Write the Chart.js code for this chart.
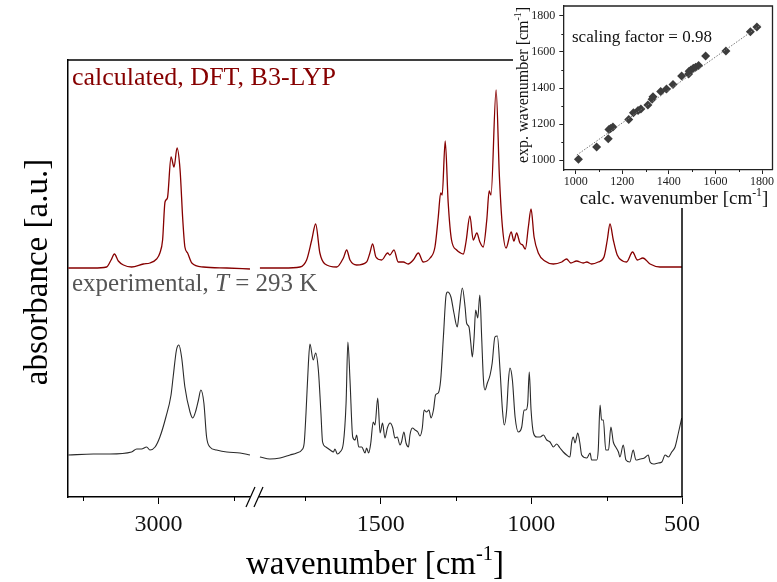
<!DOCTYPE html>
<html lang="en">
<head>
<meta charset="UTF-8">
<title>IR spectrum - calculated vs experimental</title>
<script src="https://cdn.jsdelivr.net/npm/chart.js"></script>
<style>
  body { margin: 0; background: #fff; }
  #wrap { position: relative; width: 777px; height: 582px; }
  #main { position: absolute; left: 0; top: 0; }
  #inset { position: absolute; left: 513px; top: 0; background: #fff; }
</style>
</head>
<body>
<div id="wrap">
  <canvas id="main" width="777" height="582"></canvas>
  <canvas id="inset" width="264" height="208"></canvas>
</div>

<script>
// spectra as [wavenumber, absorbance (a.u., offset)]
const calcHigh = [[3299,2.29],[3216,2.29],[3172,2.30],[3157,2.37],[3146,2.43],[3133,2.36],[3116,2.32],[3089,2.30],
  [3050,2.33],[3028,2.34],[3006,2.38],[2995,2.44],[2986,2.57],[2978,2.95],[2970,2.99],[2958,3.40],[2948,3.30],
  [2938,3.49],[2928,3.27],[2919,2.77],[2912,2.50],[2903,2.44],[2889,2.34],[2851,2.30],[2773,2.29],[2696,2.28]];

const calcLow = [[1901,2.29],[1823,2.29],[1768,2.30],[1746,2.37],[1729,2.57],[1716,2.73],[1702,2.44],[1685,2.33],
  [1646,2.30],[1624,2.39],[1613,2.47],[1602,2.37],[1580,2.32],[1547,2.35],[1536,2.44],[1527,2.53],[1516,2.40],
  [1497,2.37],[1477,2.44],[1470,2.42],[1456,2.47],[1442,2.35],[1425,2.35],[1409,2.33],[1392,2.37],[1375,2.44],
  [1359,2.35],[1336,2.39],[1320,2.50],[1309,2.80],[1301,3.04],[1296,3.02],[1286,3.56],[1276,2.94],[1265,2.57],
  [1248,2.47],[1235,2.44],[1226,2.43],[1217,2.55],[1204,2.81],[1193,2.57],[1181,2.64],[1171,2.55],[1160,2.50],
  [1148,2.77],[1140,3.06],[1134,3.02],[1117,4.07],[1106,3.20],[1096,2.70],[1084,2.49],[1067,2.65],[1058,2.56],
  [1049,2.64],[1038,2.54],[1029,2.52],[1020,2.48],[1010,2.70],[1001,2.88],[991,2.60],[977,2.44],[955,2.36],
  [927,2.33],[899,2.35],[883,2.38],[869,2.34],[850,2.36],[828,2.34],[816,2.35],[800,2.33],[778,2.35],[759,2.40],
  [748,2.57],[739,2.73],[728,2.57],[715,2.42],[697,2.36],[684,2.35],[664,2.45],[648,2.37],[630,2.39],[606,2.33],
  [573,2.30],[540,2.30],[507,2.30],[500,2.30]];

const expHigh = [[3299,0.42],[3216,0.43],[3161,0.43],[3089,0.45],[3072,0.48],[3056,0.48],[3039,0.50],[3028,0.47],
  [3011,0.50],[2995,0.60],[2975,0.80],[2958,1.02],[2951,1.20],[2940,1.47],[2932,1.52],[2923,1.40],[2912,1.10],
  [2895,0.85],[2886,0.79],[2875,0.87],[2867,0.97],[2859,1.07],[2849,0.94],[2840,0.60],[2829,0.50],[2807,0.47],
  [2773,0.45],[2729,0.44],[2696,0.42]];

const expLow = [[1901,0.40],[1868,0.38],[1834,0.39],[1801,0.42],[1779,0.44],[1762,0.47],[1754,0.54],[1748,0.84],
  [1740,1.34],[1735,1.53],[1724,1.37],[1716,1.44],[1707,1.27],[1699,0.87],[1693,0.55],[1682,0.50],[1668,0.47],
  [1657,0.45],[1652,0.48],[1644,0.43],[1635,0.45],[1624,0.54],[1615,0.94],[1609,1.55],[1602,1.17],[1593,0.60],
  [1585,0.57],[1580,0.62],[1573,0.50],[1563,0.50],[1552,0.44],[1547,0.49],[1540,0.44],[1533,0.54],[1525,0.75],
  [1519,0.72],[1510,0.99],[1502,0.64],[1494,0.74],[1486,0.59],[1478,0.69],[1469,0.74],[1460,0.69],[1453,0.59],
  [1445,0.60],[1436,0.52],[1431,0.55],[1423,0.65],[1416,0.54],[1408,0.50],[1403,0.62],[1395,0.69],[1386,0.67],
  [1377,0.65],[1370,0.61],[1362,0.69],[1356,0.87],[1348,0.85],[1340,0.87],[1333,0.79],[1325,0.87],[1318,1.02],
  [1309,1.04],[1301,1.17],[1292,1.60],[1283,2.02],[1278,2.05],[1267,2.00],[1257,1.84],[1246,1.70],[1239,1.87],
  [1229,2.09],[1220,1.90],[1215,1.74],[1207,1.70],[1201,1.54],[1196,1.40],[1190,1.60],[1185,1.87],[1178,1.79],
  [1171,2.02],[1165,1.60],[1159,1.17],[1154,1.07],[1146,1.14],[1137,1.22],[1130,1.34],[1121,1.60],[1113,1.61],
  [1104,1.27],[1096,0.87],[1090,0.72],[1082,0.87],[1076,1.17],[1071,1.29],[1063,1.17],[1054,0.80],[1043,0.65],
  [1032,0.70],[1024,0.87],[1018,0.87],[1012,0.94],[1007,1.25],[1001,0.87],[993,0.64],[982,0.60],[971,0.60],
  [960,0.62],[949,0.57],[938,0.55],[927,0.50],[916,0.53],[905,0.49],[894,0.45],[883,0.42],[872,0.40],[866,0.55],
  [861,0.60],[855,0.54],[846,0.64],[839,0.54],[833,0.42],[816,0.39],[805,0.44],[800,0.37],[783,0.37],[778,0.47],
  [772,0.92],[767,0.77],[761,0.77],[753,0.47],[744,0.47],[736,0.70],[728,0.55],[720,0.50],[711,0.45],[706,0.40],
  [695,0.52],[686,0.37],[673,0.35],[662,0.47],[653,0.37],[639,0.38],[625,0.39],[612,0.42],[606,0.35],[595,0.33],
  [579,0.34],[567,0.35],[556,0.42],[545,0.40],[534,0.45],[523,0.50],[512,0.64],[501,0.79]];

const xMajor = [3000, 1500, 1000, 500];
const xMinor = [3250, 2750, 1750, 1250, 750];

// inset: calculated vs experimental band positions
const calcWn = [1012, 1090, 1140, 1143, 1150, 1160, 1228, 1248, 1268, 1280, 1310, 1328, 1332, 1365, 1390,
  1418, 1455, 1485, 1487, 1495, 1505, 1515, 1528, 1558, 1645, 1750, 1778];
const expWn = [1005, 1072, 1118, 1170, 1175, 1183, 1225, 1262, 1275, 1283, 1305, 1338, 1352, 1380, 1395,
  1420, 1467, 1478, 1493, 1500, 1510, 1515, 1525, 1578, 1605, 1712, 1738];
const fitCalc = [1005, 1795];
const fitExp = [1028, 1750];
const insetMajor = [1000, 1200, 1400, 1600, 1800];
const insetMinor = [1100, 1300, 1500, 1700];

// broken axis: 3300-2700 then 1900-500, small gap in between
const HIGH_START = 3300, HIGH_END = 2700, LOW_START = 1900, GAP = 38;
function toAxis(w) {
  return w >= 2000 ? HIGH_START - w : (HIGH_START - HIGH_END) + GAP + (LOW_START - w);
}
const toPts = arr => arr.map(([w, a]) => ({x: toAxis(w), y: a}));

const SERIF = '"Liberation Serif", "Times New Roman", serif';

function drawRich(ctx, parts, x, y, size, color, align, rotate) {
  ctx.save();
  ctx.translate(x, y);
  if (rotate) ctx.rotate(rotate);
  ctx.fillStyle = color;
  ctx.textBaseline = 'alphabetic';
  const fontOf = p => (p.italic ? 'italic ' : '') + (p.sup ? size * 0.62 : size) + 'px ' + SERIF;
  let total = 0;
  parts.forEach(p => { ctx.font = fontOf(p); total += ctx.measureText(p.t).width; });
  let cx = align === 'center' ? -total / 2 : 0;
  parts.forEach(p => {
    ctx.font = fontOf(p);
    ctx.fillText(p.t, cx, p.sup ? -size * 0.42 : 0);
    cx += ctx.measureText(p.t).width;
  });
  ctx.restore();
}

// short minor ticks + top/right frame lines
const framePlugin = {
  id: 'frame',
  afterDraw(chart, args, opts) {
    const {ctx, chartArea: a} = chart;
    const xs = chart.scales.x, ys = chart.scales.y;
    ctx.save();
    ctx.strokeStyle = opts.color;
    ctx.lineWidth = opts.width;
    ctx.beginPath();
    ctx.moveTo(a.left, a.top); ctx.lineTo(a.right, a.top); ctx.lineTo(a.right, a.bottom);
    ctx.stroke();
    ctx.lineWidth = 1;
    (opts.minorX || []).forEach(v => {
      const px = Math.round(xs.getPixelForValue(v)) + 0.5;
      ctx.beginPath(); ctx.moveTo(px, a.bottom); ctx.lineTo(px, a.bottom + opts.minorLen); ctx.stroke();
    });
    (opts.minorY || []).forEach(v => {
      const py = Math.round(ys.getPixelForValue(v)) + 0.5;
      ctx.beginPath(); ctx.moveTo(a.left, py); ctx.lineTo(a.left - opts.minorLen, py); ctx.stroke();
    });
    ctx.restore();
  }
};

const mainText = {
  id: 'mainText',
  afterDraw(chart) {
    const {ctx, chartArea: a} = chart;
    const xs = chart.scales.x;
    // axis break marks
    const bx = xs.getPixelForValue((HIGH_START - HIGH_END) + GAP / 2);
    ctx.save();
    ctx.fillStyle = '#fff';
    ctx.beginPath();
    ctx.moveTo(bx - 8, a.bottom + 10); ctx.lineTo(bx - 1, a.bottom - 10);
    ctx.lineTo(bx + 8, a.bottom - 10); ctx.lineTo(bx + 1, a.bottom + 10);
    ctx.fill();
    ctx.strokeStyle = '#000';
    ctx.lineWidth = 1.2;
    [-4, 4].forEach(d => {
      ctx.beginPath();
      ctx.moveTo(bx + d - 4.5, a.bottom + 10); ctx.lineTo(bx + d + 4.5, a.bottom - 10);
      ctx.stroke();
    });
    ctx.restore();

    drawRich(ctx, [{t: 'calculated, DFT, B3-LYP'}], 72, 85, 26, '#860000');
    drawRich(ctx, [{t: 'experimental, '}, {t: 'T', italic: true}, {t: ' = 293 K'}], 72, 291, 25, '#555');
    drawRich(ctx, [{t: 'wavenumber [cm'}, {t: '-1', sup: true}, {t: ']'}], 375, 574, 33, '#000', 'center');
    drawRich(ctx, [{t: 'absorbance [a.u.]'}], 47, 272, 33, '#000', 'center', -Math.PI / 2);
  }
};

new Chart(document.getElementById('main'), {
  type: 'line',
  data: {
    datasets: [
      {data: toPts(calcHigh), borderColor: '#860000', borderWidth: 1.3},
      {data: toPts(calcLow), borderColor: '#860000', borderWidth: 1.3},
      {data: toPts(expHigh), borderColor: '#2a2a2a', borderWidth: 1.1},
      {data: toPts(expLow), borderColor: '#2a2a2a', borderWidth: 1.1}
    ]
  },
  options: {
    responsive: false,
    animation: false,
    events: [],
    layout: {padding: {left: 0, right: 95, top: 60, bottom: 0}},
    elements: {
      point: {radius: 0},
      line: {cubicInterpolationMode: 'monotone', fill: false}
    },
    plugins: {
      legend: {display: false},
      tooltip: {enabled: false},
      frame: {color: '#000', width: 1.5, minorX: xMinor.map(toAxis), minorLen: 4}
    },
    scales: {
      x: {
        type: 'linear',
        min: 0,
        max: toAxis(500),
        afterBuildTicks: axis => { axis.ticks = xMajor.map(w => ({value: toAxis(w)})); },
        afterFit: axis => { axis.height = 85; },
        ticks: {
          autoSkip: false,
          maxRotation: 0,
          padding: 6,
          color: '#111',
          font: {family: SERIF, size: 24},
          callback: v => {
            const w = xMajor.find(m => toAxis(m) === v);
            return w === undefined ? '' : String(w);
          }
        },
        grid: {drawOnChartArea: false, tickLength: 7, tickColor: '#000', tickWidth: 1},
        border: {color: '#000', width: 1.5}
      },
      y: {
        min: 0,
        max: 4.37,
        afterFit: axis => { axis.width = 68; },
        ticks: {display: false},
        grid: {display: false},
        border: {color: '#000', width: 1.5}
      }
    }
  },
  plugins: [framePlugin, mainText]
});

const insetText = {
  id: 'insetText',
  afterDraw(chart) {
    const {ctx} = chart;
    drawRich(ctx, [{t: 'scaling factor = 0.98'}], 59, 42, 17, '#111');
    drawRich(ctx, [{t: 'calc. wavenumber [cm'}, {t: '-1', sup: true}, {t: ']'}], 161, 204, 19, '#111', 'center');
    drawRich(ctx, [{t: 'exp. wavenumber [cm'}, {t: '-1', sup: true}, {t: ']'}], 15, 85, 16, '#111', 'center', -Math.PI / 2);
  }
};

const insetTickOpts = {
  color: '#222',
  font: {family: SERIF, size: 12},
  autoSkip: false,
  maxRotation: 0,
  callback: v => String(v)
};

new Chart(document.getElementById('inset'), {
  type: 'scatter',
  data: {
    datasets: [
      {
        type: 'line',
        data: fitCalc.map((c, i) => ({x: c, y: fitExp[i]})),
        borderColor: '#777',
        borderWidth: 1,
        borderDash: [1.5, 1.5],
        pointRadius: 0
      },
      {
        data: calcWn.map((c, i) => ({x: c, y: expWn[i]})),
        pointStyle: 'rectRot',
        pointRadius: 4.5,
        backgroundColor: '#3c3c3c',
        borderColor: '#3c3c3c',
        borderWidth: 0
      }
    ]
  },
  options: {
    responsive: false,
    animation: false,
    events: [],
    layout: {padding: {left: 0, right: 3.7, top: 6, bottom: 0}},
    plugins: {
      legend: {display: false},
      tooltip: {enabled: false},
      frame: {color: '#222', width: 1.3, minorX: insetMinor, minorY: insetMinor, minorLen: 2}
    },
    scales: {
      x: {
        type: 'linear',
        min: 947,
        max: 1845,
        afterBuildTicks: axis => { axis.ticks = insetMajor.map(v => ({value: v})); },
        afterFit: axis => { axis.height = 38; axis.paddingLeft = 0; axis.paddingRight = 0; },
        ticks: Object.assign({padding: 1}, insetTickOpts),
        grid: {drawOnChartArea: false, tickLength: 4, tickColor: '#222'},
        border: {color: '#222', width: 1.3}
      },
      y: {
        type: 'linear',
        min: 945,
        max: 1855,
        afterBuildTicks: axis => { axis.ticks = insetMajor.map(v => ({value: v})); },
        afterFit: axis => { axis.width = 50.3; axis.paddingTop = 0; axis.paddingBottom = 0; },
        ticks: Object.assign({padding: 4}, insetTickOpts),
        grid: {drawOnChartArea: false, tickLength: 4, tickColor: '#222'},
        border: {color: '#222', width: 1.3}
      }
    }
  },
  plugins: [framePlugin, insetText]
});
</script>
</body>
</html>
